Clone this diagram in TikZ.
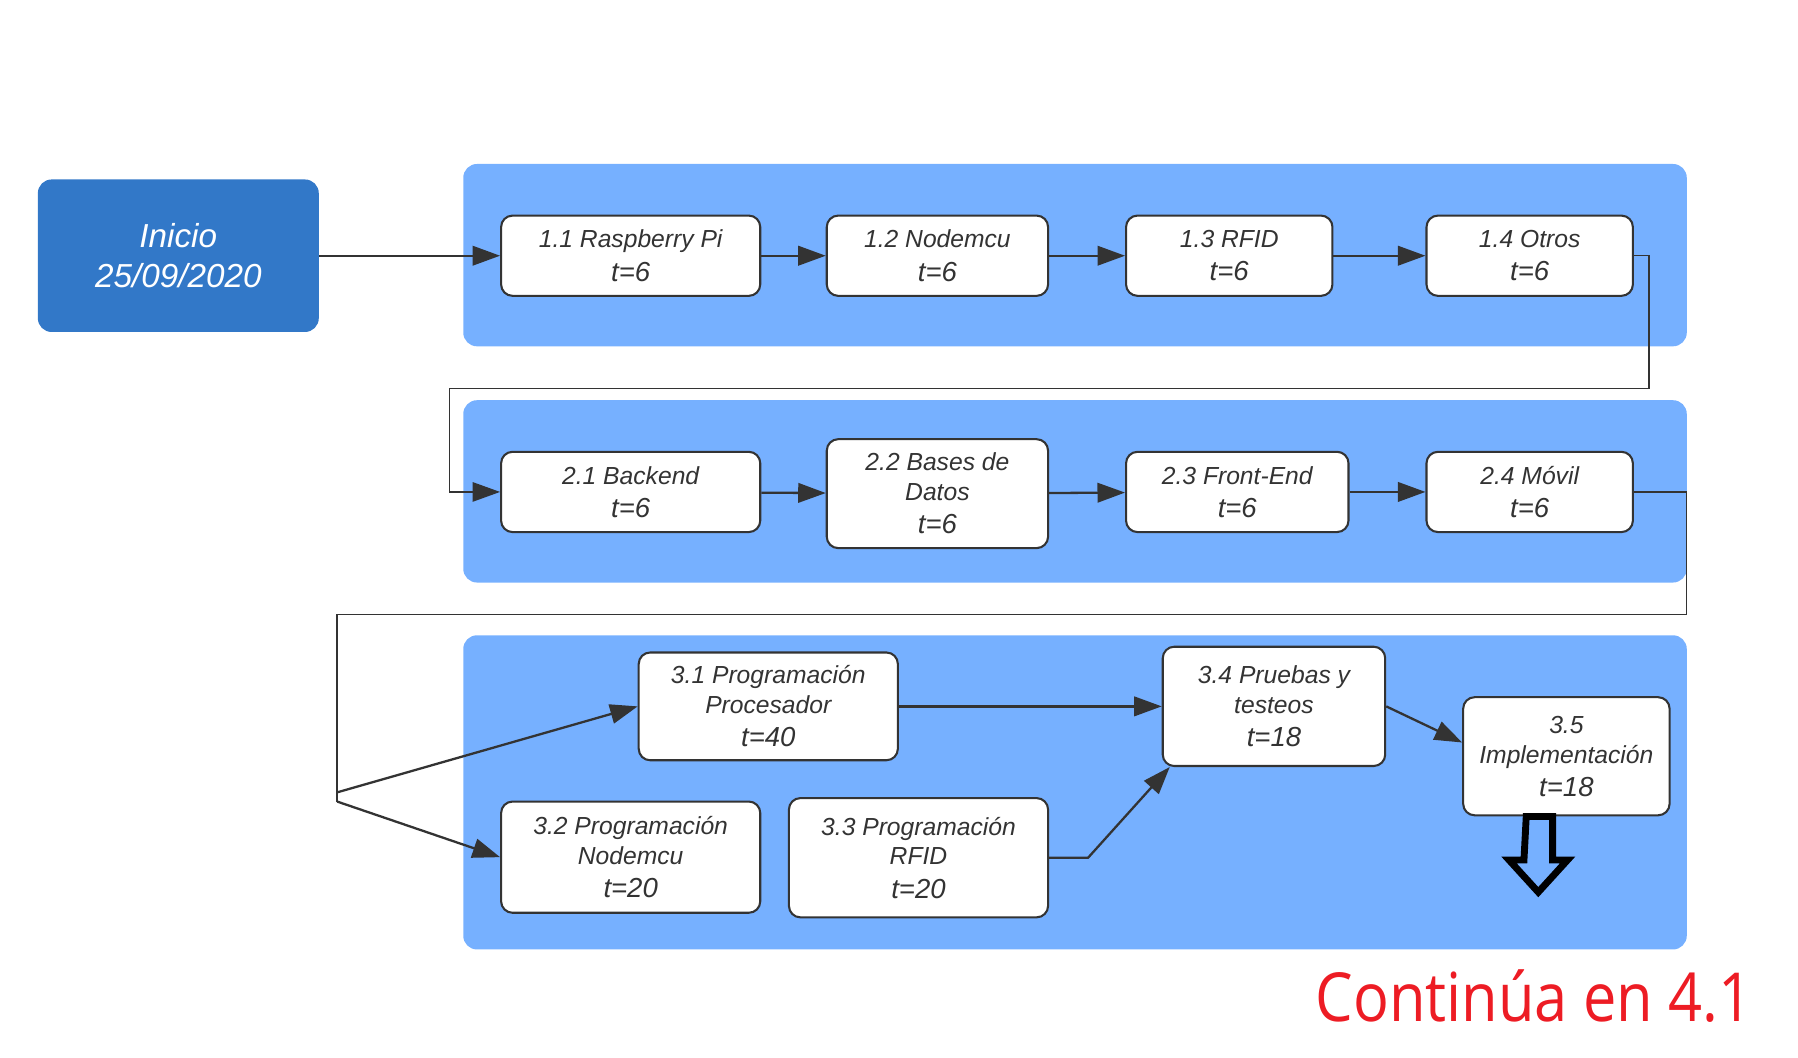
\documentclass[tikz,border=0pt]{standalone}
\usepackage{fontspec}
\setmainfont{Liberation Sans}
\newfontfamily\contfont[FakeStretch=0.88]{Open Sans}
\usetikzlibrary{arrows.meta}
\definecolor{panelblue}{HTML}{76B0FF}
\definecolor{startblue}{HTML}{3278C8}
\definecolor{linegray}{HTML}{333333}
\definecolor{contred}{HTML}{ED1C24}
\newcommand{\tval}[1]{\\[3pt]{\fontsize{24}{28}\selectfont #1}}

\begin{document}
\begin{tikzpicture}[x=1pt,y=-1pt,
		panel/.style={fill=panelblue, rounded corners=12pt},
		task/.style={draw=linegray, fill=white, line width=1.8pt, rounded corners=10pt, align=center, text=linegray, inner sep=0pt, font=\itshape\fontsize{21.5}{26}\selectfont},
		link/.style={draw=linegray, line width=2pt, -{Triangle[length=24pt,width=17pt]}},
		loopline/.style={draw=linegray, line width=1.2pt}]
		\useasboundingbox (0,0) rectangle (1568,922);
		\fill[panel] (404,143) rectangle (1471,302);
		\fill[panel] (404,349) rectangle (1471,508);
		\fill[panel] (404,554) rectangle (1471,828);
		\node[fill=startblue, rounded corners=12pt, minimum width=245pt, minimum height=133pt, align=center, text=white, font=\itshape\fontsize{29}{35}\selectfont] (ini) at (155.5,223) {Inicio\\25/09/2020};
		\node[task, minimum width=226pt, minimum height=70pt] (r11) at (550,223) {1.1 Raspberry Pi\tval{t=6}};
		\node[task, minimum width=193pt, minimum height=70pt] (r12) at (817.5,223) {1.2 Nodemcu\tval{t=6}};
		\node[task, minimum width=180pt, minimum height=70pt] (r13) at (1072,223) {1.3 RFID\tval{t=6}};
		\node[task, minimum width=180pt, minimum height=70pt] (r14) at (1334,223) {1.4 Otros\tval{t=6}};
		\node[task, minimum width=226pt, minimum height=70pt] (r21) at (550,429) {2.1 Backend\tval{t=6}};
		\node[task, minimum width=193pt, minimum height=95pt] (r22) at (817.5,430.5) {2.2 Bases de\\Datos\tval{t=6}};
		\node[task, minimum width=194pt, minimum height=70pt] (r23) at (1079,429) {2.3 Front-End\tval{t=6}};
		\node[task, minimum width=180pt, minimum height=70pt] (r24) at (1334,429) {2.4 Móvil\tval{t=6}};
		\node[task, minimum width=226pt, minimum height=94pt] (r31) at (670,616) {3.1 Programación\\Procesador\tval{t=40}};
		\node[task, minimum width=226pt, minimum height=97pt] (r32) at (550,747.5) {3.2 Programación\\Nodemcu\tval{t=20}};
		\node[task, minimum width=226pt, minimum height=104pt] (r33) at (801,748) {3.3 Programación\\RFID\tval{t=20}};
		\node[task, minimum width=194pt, minimum height=104pt] (r34) at (1111,616) {3.4 Pruebas y\\testeos\tval{t=18}};
		\node[task, minimum width=180pt, minimum height=103pt] (r35) at (1366,659.5) {3.5\\Implementación\tval{t=18}};
		\coordinate (forkA) at (294,691);
		\coordinate (forkB) at (294,699);
		\draw[link] (ini) -- (r11);
		\draw[link] (r11) -- (r12);
		\draw[link] (r12) -- (r13);
		\draw[link] (r13) -- (r14);
		\draw[loopline, -{Triangle[length=24pt,width=17pt]}] (r14.east) -| (1438,339) -| (392,429) -- (r21.west);
		\draw[link] (r21) -- (r22);
		\draw[link] (r22) -- (r23);
		\draw[link] (r23) -- (r24);
		\draw[loopline] (r24.east) -| (1471,536) -| (forkB);
		\draw[link] (forkA) -- (r31.west);
		\draw[link] (forkB) -- (r32.west);
		\draw[link] (r31) -- (r34);
		\draw[link] (r33.east) -- ++(34,0) -- ([xshift=7pt]r34.south west);
		\draw[link] (r34.east) -- ([yshift=12pt]r35.west);
		\draw[line width=6pt, line join=miter] (1331,712) -- (1354,712) -- (1354,750) -- (1367,750) -- (1341.5,778) -- (1316,750) -- (1329,750) -- cycle;
		\node[anchor=base west, inner sep=0pt, text=contred, font=\contfont\fontsize{59}{70}\selectfont] (cont) at (1147,891) {Continúa en 4.1};
	\end{tikzpicture}
\end{document}
